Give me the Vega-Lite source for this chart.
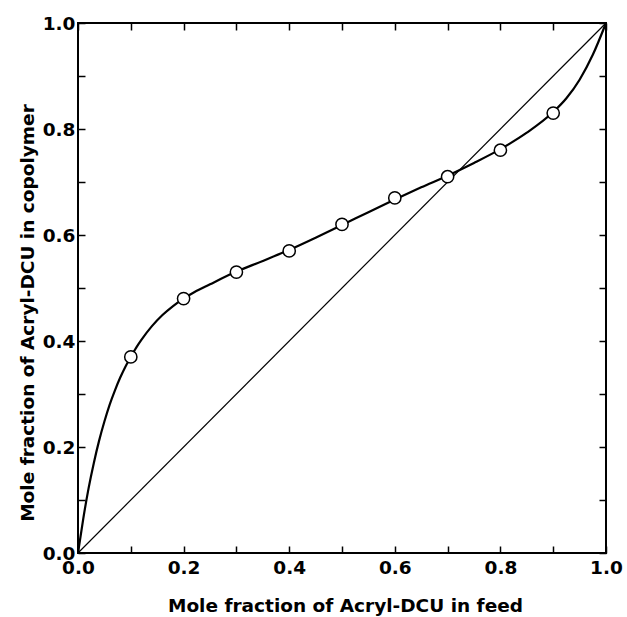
{
  "$schema": "https://vega.github.io/schema/vega-lite/v6.json",
  "width": 528,
  "height": 530,
  "autosize": {"type": "none"},
  "padding": {"left": 78, "top": 23, "right": 21, "bottom": 64},
  "background": "white",
  "config": {
    "view": {"stroke": "black", "strokeWidth": 2},
    "axis": {
      "domain": false,
      "grid": false,
      "tickColor": "black",
      "tickWidth": 1.5,
      "tickSize": -7,
      "labelFont": "DejaVu Sans",
      "labelFontWeight": "bold",
      "labelFontSize": 18.5,
      "labelColor": "black",
      "titleFont": "DejaVu Sans",
      "titleFontWeight": "bold",
      "titleFontSize": 18.5,
      "titleColor": "black"
    }
  },
  "datasets": {
    "diag": [{"x": 0, "y": 0}, {"x": 1, "y": 1}],
    "curve": [
      {"x": 0, "y": 0},
      {"x": 0.01, "y": 0.065},
      {"x": 0.02, "y": 0.122},
      {"x": 0.03, "y": 0.17},
      {"x": 0.04, "y": 0.212},
      {"x": 0.05, "y": 0.248},
      {"x": 0.06, "y": 0.28},
      {"x": 0.07, "y": 0.307},
      {"x": 0.08, "y": 0.331},
      {"x": 0.09, "y": 0.352},
      {"x": 0.1, "y": 0.37},
      {"x": 0.11, "y": 0.387},
      {"x": 0.12, "y": 0.402},
      {"x": 0.14, "y": 0.428},
      {"x": 0.16, "y": 0.449},
      {"x": 0.18, "y": 0.466},
      {"x": 0.2, "y": 0.48},
      {"x": 0.22, "y": 0.492},
      {"x": 0.25, "y": 0.507},
      {"x": 0.3, "y": 0.531},
      {"x": 0.35, "y": 0.551},
      {"x": 0.4, "y": 0.572},
      {"x": 0.45, "y": 0.595},
      {"x": 0.5, "y": 0.619},
      {"x": 0.55, "y": 0.643},
      {"x": 0.6, "y": 0.667},
      {"x": 0.65, "y": 0.69},
      {"x": 0.7, "y": 0.712},
      {"x": 0.75, "y": 0.736},
      {"x": 0.8, "y": 0.762},
      {"x": 0.85, "y": 0.793},
      {"x": 0.9, "y": 0.832},
      {"x": 0.925, "y": 0.858},
      {"x": 0.95, "y": 0.893},
      {"x": 0.975, "y": 0.94},
      {"x": 1, "y": 1}
    ],
    "points": [
      {"x": 0.1, "y": 0.37},
      {"x": 0.2, "y": 0.48},
      {"x": 0.3, "y": 0.53},
      {"x": 0.4, "y": 0.57},
      {"x": 0.5, "y": 0.62},
      {"x": 0.6, "y": 0.67},
      {"x": 0.7, "y": 0.71},
      {"x": 0.8, "y": 0.76},
      {"x": 0.9, "y": 0.83}
    ]
  },
  "layer": [
    {
      "data": {"name": "diag"},
      "mark": {"type": "line", "color": "black", "strokeWidth": 1.2},
      "encoding": {
        "x": {
          "field": "x", "type": "quantitative",
          "scale": {"domain": [0, 1], "nice": false},
          "axis": {
            "orient": "bottom",
            "values": [0, 0.1, 0.2, 0.3, 0.4, 0.5, 0.6, 0.7, 0.8, 0.9, 1],
            "labelExpr": "round(datum.value*10) % 2 == 0 ? format(datum.value, '.1f') : ''",
            "labelPadding": 12,
            "labelFlush": false,
            "labelOverlap": false,
            "title": "Mole fraction of Acryl-DCU in feed",
            "titleX": 267,
            "titleY": 58,
            "titleBaseline": "alphabetic"
          }
        },
        "y": {
          "field": "y", "type": "quantitative",
          "scale": {"domain": [0, 1], "nice": false},
          "axis": {
            "orient": "left",
            "values": [0, 0.1, 0.2, 0.3, 0.4, 0.5, 0.6, 0.7, 0.8, 0.9, 1],
            "labelExpr": "round(datum.value*10) % 2 == 0 ? format(datum.value, '.1f') : ''",
            "labelPadding": 10,
            "labelBaseline": "alphabetic",
            "labelOffset": 6.5,
            "labelFlush": false,
            "labelOverlap": false,
            "title": "Mole fraction of Acryl-DCU in copolymer",
            "titleX": -45,
            "titleY": 289.5,
            "titleBaseline": "alphabetic"
          }
        }
      }
    },
    {
      "data": {"name": "curve"},
      "mark": {"type": "line", "color": "black", "strokeWidth": 2.2, "interpolate": "monotone"},
      "encoding": {
        "x": {
          "field": "x", "type": "quantitative",
          "scale": {"domain": [0, 1], "nice": false},
          "axis": {
            "orient": "top",
            "values": [0, 0.1, 0.2, 0.3, 0.4, 0.5, 0.6, 0.7, 0.8, 0.9, 1],
            "labels": false,
            "title": null
          }
        },
        "y": {
          "field": "y", "type": "quantitative",
          "scale": {"domain": [0, 1], "nice": false},
          "axis": {
            "orient": "right",
            "values": [0, 0.1, 0.2, 0.3, 0.4, 0.5, 0.6, 0.7, 0.8, 0.9, 1],
            "labels": false,
            "title": null
          }
        }
      }
    },
    {
      "data": {"name": "points"},
      "mark": {"type": "point", "shape": "circle", "size": 150, "filled": true, "fill": "white", "stroke": "black", "strokeWidth": 1.5, "opacity": 1},
      "encoding": {
        "x": {"field": "x", "type": "quantitative", "scale": {"domain": [0, 1], "nice": false}, "axis": null},
        "y": {"field": "y", "type": "quantitative", "scale": {"domain": [0, 1], "nice": false}, "axis": null}
      }
    }
  ],
  "resolve": {"axis": {"x": "independent", "y": "independent"}}
}
